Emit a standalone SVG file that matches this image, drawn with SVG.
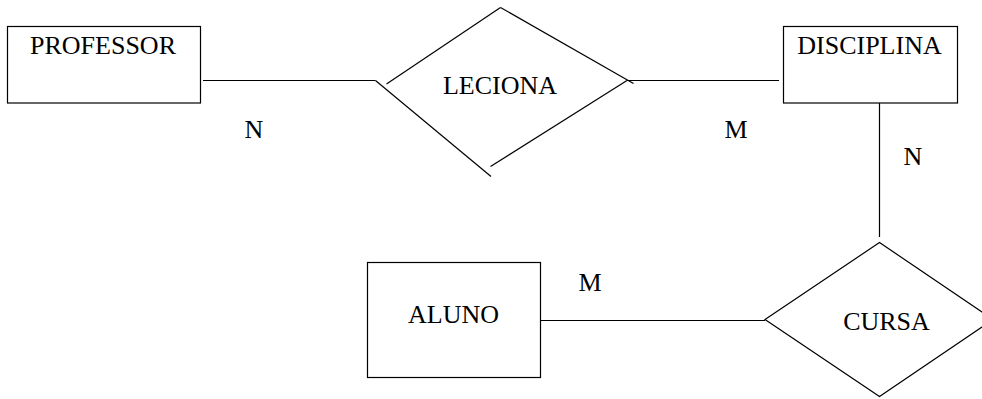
<svg xmlns="http://www.w3.org/2000/svg" width="982" height="399" viewBox="0 0 982 399">
<style>
.b{fill:#fff;stroke:#000;stroke-width:1.2}
.l{stroke:#000;stroke-width:1.2;fill:none}
text{font-family:"Liberation Serif","Times New Roman",serif;font-size:26px;fill:#000}
.c{text-anchor:middle}
</style>
<rect width="982" height="399" fill="#fff"/>
<g id="connectors">
<line class="l" x1="203" y1="80.5" x2="375.5" y2="80.5"/>
<line class="l" x1="627" y1="80.5" x2="779" y2="80.5"/>
<line class="l" x1="879.5" y1="103" x2="879.5" y2="237"/>
<line class="l" x1="538" y1="320.5" x2="765" y2="320.5"/>
<text class="c" x="254" y="138">N</text>
<text class="c" x="736" y="138">M</text>
<text class="c" x="913" y="165">N</text>
<text class="c" x="590" y="291">M</text>
</g>
<g id="professor">
<rect class="b" x="7.5" y="26.5" width="193" height="76.5"/>
<text class="c" x="103" y="54">PROFESSOR</text>
</g>
<g id="disciplina">
<rect class="b" x="783.5" y="26.5" width="174" height="76.5"/>
<text class="c" x="869.5" y="54">DISCIPLINA</text>
</g>
<g id="aluno">
<rect class="b" x="367.5" y="262.5" width="173" height="115"/>
<text class="c" x="453.5" y="323">ALUNO</text>
</g>
<g id="leciona">
<line class="l" x1="375.5" y1="80.5" x2="491" y2="176.5"/>
<line class="l" x1="386.5" y1="84" x2="500.5" y2="7.5"/>
<line class="l" x1="500.5" y1="7.5" x2="633.5" y2="83.5"/>
<line class="l" x1="627" y1="80.5" x2="490.5" y2="166.5"/>
<text class="c" x="500" y="93.5">LECIONA</text>
</g>
<g id="cursa">
<polygon class="l" points="879.5,242.5 993,319.5 879.5,396.5 765,319.5"/>
<text class="c" x="886.5" y="329.5">CURSA</text>
</g>
</svg>
